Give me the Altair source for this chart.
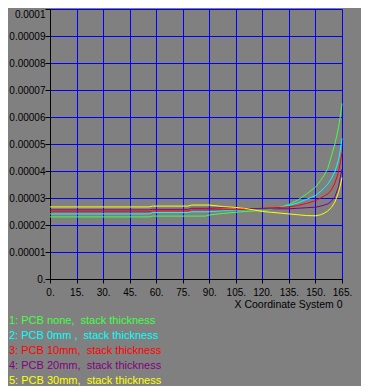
import altair as alt
import pandas as pd

# x positions along the trace (X Coordinate System 0)
x_vals = [0, 56, 58, 78, 80, 88, 90, 98, 105, 110, 115, 120, 125, 130, 135,
          140, 145, 150, 153, 155, 157, 159, 161, 163, 164, 165]

series_names = [
    "1: PCB none,\u00a0 stack thickness",
    "2: PCB 0mm ,\u00a0 stack thickness",
    "3: PCB 10mm,\u00a0 stack thickness",
    "4: PCB 20mm,\u00a0 stack thickness",
    "5: PCB 30mm,\u00a0 stack thickness",
]
series_colors = ["#44FF44", "#00FFFF", "#FF0000", "#800080", "#FFFF00"]

# values in units of 1e-5
green = [2.30, 2.30, 2.33, 2.33, 2.33, 2.33, 2.37, 2.43, 2.47, 2.50, 2.52, 2.54,
         2.58, 2.65, 2.76, 2.92, 3.15, 3.40, 3.65, 3.85, 4.10, 4.55, 5.00, 5.60, 6.00, 6.50]
cyan = [2.41, 2.41, 2.46, 2.46, 2.49, 2.49, 2.49, 2.53, 2.55, 2.57, 2.58, 2.59,
        2.62, 2.66, 2.72, 2.82, 2.95, 3.09, 3.25, 3.38, 3.52, 3.72, 3.98, 4.40, 4.75, 5.21]
red = [2.49, 2.49, 2.52, 2.52, 2.56, 2.56, 2.56, 2.57, 2.57, 2.58, 2.60, 2.62,
       2.64, 2.65, 2.67, 2.72, 2.80, 2.90, 3.00, 3.08, 3.15, 3.30, 3.55, 3.95, 4.30, 4.69]
purple = [2.56, 2.56, 2.58, 2.58, 2.62, 2.62, 2.62, 2.64, 2.65, 2.62, 2.60, 2.60,
          2.60, 2.60, 2.60, 2.62, 2.64, 2.66, 2.70, 2.74, 2.78, 2.88, 3.05, 3.40, 3.75, 4.07]
yellow = [2.67, 2.67, 2.70, 2.70, 2.74, 2.74, 2.74, 2.68, 2.65, 2.62, 2.56, 2.50,
          2.47, 2.44, 2.41, 2.38, 2.35, 2.34, 2.38, 2.44, 2.52, 2.65, 2.85, 3.20, 3.45, 3.75]

x_ticks = [0, 15, 30, 45, 60, 75, 90, 105, 120, 135, 150, 165]
y_ticks = [0, 0.00001, 0.00002, 0.00003, 0.00004, 0.00005,
           0.00006, 0.00007, 0.00008, 0.00009, 0.0001]

rows = []
for name, vals in zip(series_names, [green, cyan, red, purple, yellow]):
    for xv, yv in zip(x_vals, vals):
        rows.append({"x": xv, "y": yv * 1e-5, "series": name})
df = pd.DataFrame(rows)
legend_df = pd.DataFrame({"series": series_names})

color_scale = alt.Scale(domain=series_names, range=series_colors)

lines = alt.Chart(df).mark_line(strokeWidth=1).encode(
    x=alt.X("x:Q",
            scale=alt.Scale(domain=[0, 165], nice=False, zero=False),
            axis=alt.Axis(values=x_ticks, labelExpr="datum.value + '.'",
                          labelOverlap=False, labelBound=False, labelFlush=False,
                          title="X Coordinate System 0", titleAnchor="end",
                          titleFontWeight="normal", titleFontSize=10.5,
                          titleColor="black", titlePadding=2,
                          labelFontSize=10, labelColor="black", labelPadding=4,
                          tickSize=4, tickColor="black",
                          domainColor="black", gridColor="#0000FF",
                          gridOpacity=1, gridWidth=1, labelFont="Liberation Sans",
                          titleFont="Liberation Sans")),
    y=alt.Y("y:Q",
            scale=alt.Scale(domain=[0, 0.0001], nice=False),
            axis=alt.Axis(values=y_ticks,
                          labelExpr="datum.value == 0 ? '0.' : format(datum.value, '.5~f')",
                          labelOverlap=False, labelBound=False,
                          title=None, labelFontSize=10, labelColor="black",
                          labelPadding=0, tickSize=5, tickColor="black",
                          domainColor="black", gridColor="#0000FF",
                          gridOpacity=1, gridWidth=1, labelFont="Liberation Sans",
                          labelBaseline={"condition": {"test": "datum.value > 0.000095",
                                                       "value": "top"},
                                         "value": "middle"})),
    color=alt.Color("series:N", scale=color_scale, legend=None),
)

texts = alt.Chart(legend_df).mark_text(
    align="left", baseline="middle", fontSize=11, font="Liberation Sans"
).encode(
    x=alt.value(-41),
    y=alt.Y("series:N", sort=series_names,
            scale=alt.Scale(type="point", range=[312, 372], padding=0),
            axis=None),
    text="series:N",
    color=alt.Color("series:N", scale=color_scale, legend=None),
)

chart = alt.layer(lines, texts).resolve_scale(y="independent").properties(
    width=292, height=270, background="#808080",
    padding={"left": 0, "top": 0, "right": 9, "bottom": 0},
).configure_view(strokeWidth=0)

chart.save("out.html", embed_options={"renderer": "svg", "actions": False})
